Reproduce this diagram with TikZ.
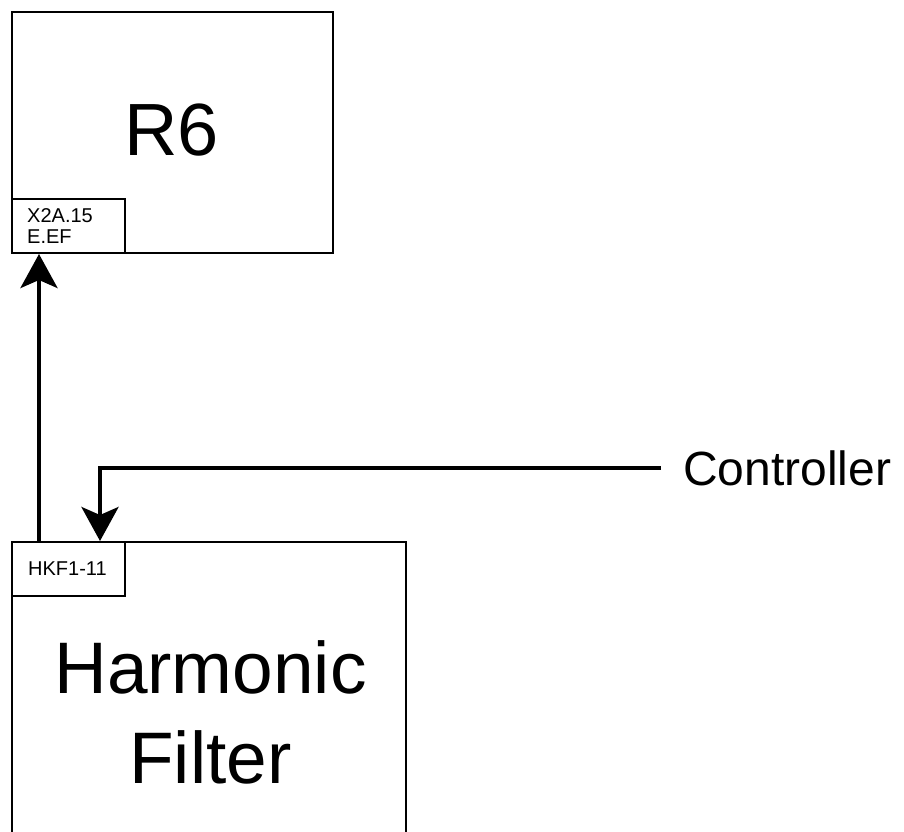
\documentclass[tikz,border=0pt]{standalone}
\usepackage{fontspec}
\setmainfont{Liberation Sans}
\usetikzlibrary{arrows.meta}

\tikzset{
  box/.style={draw, line width=2pt, anchor=north west, inner sep=0pt},
  tag/.style={box, minimum width=113pt, minimum height=54pt},
  txt/.style={inner sep=0pt, anchor=base},
  wire/.style={line width=4pt, -{Stealth[length=34pt,width=37pt,inset=8pt]}},
}

\begin{document}
\begin{tikzpicture}[x=1pt,y=-1pt]

    \useasboundingbox (0,0) rectangle (904,831);
    \clip (0,0) rectangle (904,831);

    % Bloques
    \node[box, minimum width=321pt, minimum height=241pt] (r6) at (11,11) {};
    \node[box, minimum width=394pt, minimum height=340pt] (hf) at (11,541) {};

    % Bornes
    \node[tag] (x2a) at (11,198) {};
    \node[tag] (hkf) at (11,541) {};

    % Textos
    \node[txt] (r6lbl) at (171.5,155) {\fontsize{74}{74}\selectfont R6};
    \node[txt] (hflblA) at (210.5,693) {\fontsize{73}{73}\selectfont Harmonic};
    \node[txt] (hflblB) at (210.5,783) {\fontsize{73}{73}\selectfont Filter};
    \node[txt, anchor=base west] (x2alblA) at (27,222) {\fontsize{20}{20}\selectfont X2A.15};
    \node[txt, anchor=base west] (x2alblB) at (27,243) {\fontsize{20}{20}\selectfont E.EF};
    \node[txt, anchor=base west] (hkflbl) at (28,575) {\fontsize{20}{20}\selectfont HKF1-11};
    \node[txt, anchor=base west] (ctrl) at (683,485) {\fontsize{48}{48}\selectfont Controller};

    % Conexiones
    \draw[wire] ([xshift=28pt]hkf.north west) -- ([xshift=28pt]x2a.south west);
    \draw[wire] ([xshift=-22pt]ctrl.west) -| ([xshift=89pt]hkf.north west);

\end{tikzpicture}
\end{document}
